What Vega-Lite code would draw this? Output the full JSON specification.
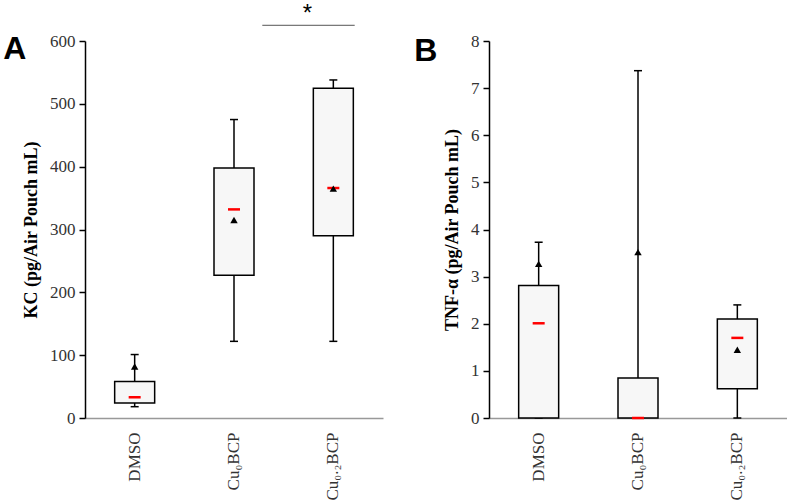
{
  "$schema": "https://vega.github.io/schema/vega-lite/v6.json",
  "padding": {"left": 3, "top": 1, "right": 0, "bottom": 0},
  "background": "white",
  "spacing": 31,
  "datasets": {
    "kc": [
      {"group": "DMSO", "min": 18, "q1": 24, "median": 33, "q3": 58, "max": 101, "mean": 82},
      {"group": "Cu₀BCP", "min": 122, "q1": 227, "median": 332, "q3": 398, "max": 475, "mean": 315},
      {"group": "Cu₀.₂BCP", "min": 122, "q1": 290, "median": 366, "q3": 525, "max": 538, "mean": 365}
    ],
    "tnf": [
      {"group": "DMSO", "min": 0, "q1": 0, "median": 2.01, "q3": 2.81, "max": 3.73, "mean": 3.27},
      {"group": "Cu₀BCP", "min": 0, "q1": 0, "median": 0, "q3": 0.85, "max": 7.37, "mean": 3.52},
      {"group": "Cu₀.₂BCP", "min": 0, "q1": 0.62, "median": 1.70, "q3": 2.10, "max": 2.40, "mean": 1.45}
    ],
    "sig": [
      {"from": "Cu₀BCP", "to": "Cu₀.₂BCP", "y": 625, "ystar": 643, "label": "*"}
    ]
  },
  "config": {
    "view": {"stroke": null},
    "axisY": {
      "grid": false, "domainColor": "#000", "domainWidth": 1.5, "tickColor": "#000", "tickWidth": 1.5, "tickSize": 6,
      "labelFont": "Liberation Serif", "labelFontSize": 17, "labelColor": "#333", "labelPadding": 4,
      "titleFont": "Liberation Serif", "titleFontSize": 18, "titleFontWeight": "bold", "titleColor": "#000", "titlePadding": 9
    },
    "axisX": {
      "grid": false, "domainColor": "#999", "domainWidth": 1.5, "ticks": false,
      "labelFont": "Liberation Serif", "labelFontSize": 17, "labelColor": "#333", "labelAngle": -90, "labelPadding": 14
    },
    "title": {"font": "Liberation Sans", "fontSize": 32, "fontWeight": "bold", "color": "#000"}
  },
  "hconcat": [
    {
      "width": 298, "height": 377,
      "title": {"text": "A", "orient": "left", "frame": "group", "angle": 0, "anchor": "end", "baseline": "top", "align": "right", "offset": -27, "dy": -7},
      "layer": [
        {
          "data": {"name": "kc"},
          "layer": [
            {"mark": {"type": "rule", "color": "#000", "strokeWidth": 1.5},
             "encoding": {"y": {"field": "min", "type": "quantitative"}, "y2": {"field": "max"}}},
            {"mark": {"type": "tick", "color": "#000", "size": 8, "thickness": 1.5, "opacity": 1},
             "encoding": {"y": {"field": "min", "type": "quantitative"}}},
            {"mark": {"type": "tick", "color": "#000", "size": 8, "thickness": 1.5, "opacity": 1},
             "encoding": {"y": {"field": "max", "type": "quantitative"}}},
            {"mark": {"type": "bar", "size": 40, "fill": "#f7f7f7", "stroke": "#000", "strokeWidth": 1.5},
             "encoding": {"y": {"field": "q1", "type": "quantitative"}, "y2": {"field": "q3"}}},
            {"mark": {"type": "tick", "color": "#ff0000", "size": 12, "thickness": 2.5, "opacity": 1},
             "encoding": {"y": {"field": "median", "type": "quantitative"}}},
            {"mark": {"type": "point", "shape": "triangle-up", "filled": true, "color": "#000", "size": 55, "opacity": 1},
             "encoding": {"y": {"field": "mean", "type": "quantitative"}}}
          ],
          "encoding": {
            "x": {"field": "group", "type": "nominal", "title": null, "scale": {"domain": ["DMSO", "Cu₀BCP", "Cu₀.₂BCP"], "paddingInner": 0, "paddingOuter": 0}}
          }
        },
        {
          "data": {"name": "sig"},
          "mark": {"type": "rule", "color": "#555", "strokeWidth": 1},
          "encoding": {
            "x": {"field": "from", "type": "nominal", "bandPosition": 0.785, "scale": {"domain": ["DMSO", "Cu₀BCP", "Cu₀.₂BCP"]}},
            "x2": {"field": "to", "bandPosition": 0.715},
            "y": {"field": "y", "type": "quantitative"}
          }
        },
        {
          "data": {"name": "sig"},
          "mark": {"type": "text", "font": "Liberation Sans", "fontSize": 24, "color": "#000", "baseline": "middle"},
          "encoding": {
            "x": {"field": "to", "type": "nominal", "bandPosition": 0.24, "scale": {"domain": ["DMSO", "Cu₀BCP", "Cu₀.₂BCP"]}},
            "y": {"field": "ystar", "type": "quantitative"},
            "text": {"field": "label"}
          }
        }
      ],
      "encoding": {
        "y": {"type": "quantitative", "scale": {"domain": [0, 600]}, "axis": {"values": [0, 100, 200, 300, 400, 500, 600], "title": "KC (pg/Air Pouch mL)"}}
      }
    },
    {
      "width": 298, "height": 377,
      "title": {"text": "B", "orient": "left", "frame": "group", "angle": 0, "anchor": "end", "baseline": "top", "align": "right", "offset": -17, "dy": -5},
      "data": {"name": "tnf"},
      "encoding": {
        "x": {"field": "group", "type": "nominal", "title": null, "scale": {"domain": ["DMSO", "Cu₀BCP", "Cu₀.₂BCP"], "paddingInner": 0, "paddingOuter": 0}}
      },
      "layer": [
        {"mark": {"type": "rule", "color": "#000", "strokeWidth": 1.5},
         "encoding": {"y": {"field": "min", "type": "quantitative", "scale": {"domain": [0, 8]}, "axis": {"values": [0, 1, 2, 3, 4, 5, 6, 7, 8], "title": "TNF-α (pg/Air Pouch mL)"}}, "y2": {"field": "max"}}},
        {"mark": {"type": "tick", "color": "#000", "size": 8, "thickness": 1.5, "opacity": 1},
         "encoding": {"y": {"field": "min", "type": "quantitative"}}},
        {"mark": {"type": "tick", "color": "#000", "size": 8, "thickness": 1.5, "opacity": 1},
         "encoding": {"y": {"field": "max", "type": "quantitative"}}},
        {"mark": {"type": "bar", "size": 40, "fill": "#f7f7f7", "stroke": "#000", "strokeWidth": 1.5},
         "encoding": {"y": {"field": "q1", "type": "quantitative"}, "y2": {"field": "q3"}}},
        {"mark": {"type": "tick", "color": "#ff0000", "size": 12, "thickness": 2.5, "opacity": 1},
         "encoding": {"y": {"field": "median", "type": "quantitative"}}},
        {"mark": {"type": "point", "shape": "triangle-up", "filled": true, "color": "#000", "size": 55, "opacity": 1},
         "encoding": {"y": {"field": "mean", "type": "quantitative"}}}
      ]
    }
  ]
}
